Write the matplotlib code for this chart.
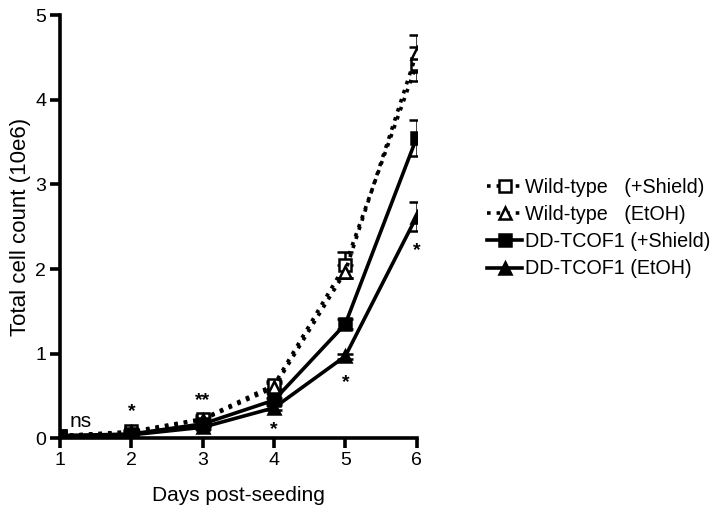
import numpy as np
import matplotlib
matplotlib.use("Agg")
import matplotlib.pyplot as plt
from matplotlib.lines import Line2D

plt.rcParams['font.family'] = ['Liberation Sans', 'DejaVu Sans']

#------------------------------------------------------------------------------
# data
days = [1, 2, 3, 4, 5, 6]

wt_shield = [0.03, 0.08, 0.23, 0.63, 2.05, 4.42]
wt_shield_err = [0.01, 0.02, 0.04, 0.05, 0.15, 0.2]
wt_etoh = [0.03, 0.07, 0.22, 0.60, 1.97, 4.55]
wt_etoh_err = [0.01, 0.02, 0.03, 0.05, 0.08, 0.22]
dd_shield = [0.03, 0.05, 0.17, 0.45, 1.35, 3.55]
dd_shield_err = [0.01, 0.01, 0.02, 0.03, 0.06, 0.21]
dd_etoh = [0.03, 0.04, 0.13, 0.36, 0.97, 2.62]
dd_etoh_err = [0.01, 0.01, 0.02, 0.03, 0.03, 0.17]

labels = ["Wild-type   (+Shield)", "Wild-type   (EtOH)",
          "DD-TCOF1 (+Shield)", "DD-TCOF1 (EtOH)"]

# significance marks: (x, y, text)
sig_x = [1.28, 2, 3, 4, 5, 6]
sig_y = [0.20, 0.31, 0.45, 0.10, 0.66, 2.22]
sig_txt = ["ns", "*", "**", "*", "*", "*"]

#------------------------------------------------------------------------------

fig = plt.figure(figsize=(7.17, 5.09), dpi=100)
ax = fig.add_axes([0.084, 0.139, 0.497, 0.831])

lw = 2.6
common = dict(color="black", linewidth=lw, capsize=6, elinewidth=1.8,
              capthick=1.8, markersize=8, markeredgewidth=1.8)

styles = [(":", "s", "white"), (":", "^", "white"),
          ("-", "s", "black"), ("-", "^", "black")]
series = [(wt_shield, wt_shield_err), (wt_etoh, wt_etoh_err),
          (dd_shield, dd_shield_err), (dd_etoh, dd_etoh_err)]

handles = []
for (ls, mk, fc), (vals, err), lab in zip(styles, series, labels):
    ax.errorbar(days, vals, yerr=err, linestyle=ls, marker=mk,
                markerfacecolor=fc, **common)
    handles.append(Line2D([], [], color="black", linewidth=lw, linestyle=ls,
                          marker=mk, markerfacecolor=fc, markersize=8,
                          markeredgewidth=1.8, label=lab))

for x, y, t in zip(sig_x, sig_y, sig_txt):
    if t == "ns":
        ax.text(x, y, t, fontsize=15, ha="center", va="center")
    else:
        ax.text(x, y, t, fontsize=14, ha="center", va="center",
                fontweight="bold")

ax.set_xlim(1, 6)
ax.set_ylim(0, 5)
ax.set_xticks(days)
ax.set_yticks([0, 1, 2, 3, 4, 5])
for side in ["top", "right"]:
    ax.spines[side].set_visible(False)
for side in ["left", "bottom"]:
    ax.spines[side].set_linewidth(2.6)
ax.tick_params(width=2.6, length=7, labelsize=14, pad=3)

ax.set_xlabel("Days post-seeding", fontsize=15, labelpad=12)
ax.set_ylabel("Total cell count (10e6)", fontsize=16, labelpad=3)

fig.legend(handles=handles, loc="center left",
           bbox_to_anchor=(0.668, 0.552), frameon=False,
           fontsize=14.2, handlelength=1.8, handletextpad=0.15,
           labelspacing=0.42, borderaxespad=0)

fig.savefig("out.png", dpi=100)
